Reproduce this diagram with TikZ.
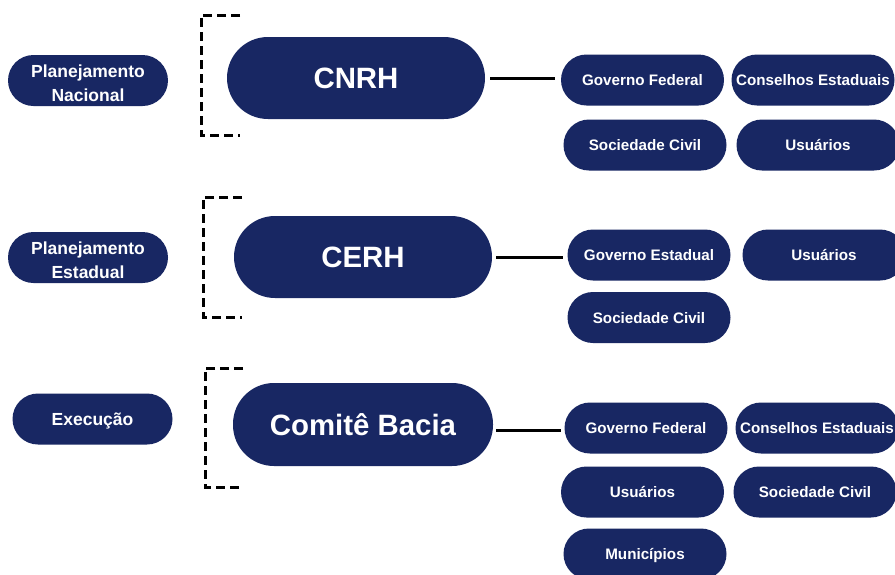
\documentclass[tikz,border=0pt]{standalone}
\usepackage{fontspec}
\setmainfont{Liberation Sans}
\usetikzlibrary{calc}
\definecolor{navy}{RGB}{24,39,99}
\tikzset{
  pill/.style={fill=navy, text=white, inner sep=0pt, font=\bfseries, align=center},
  bigbox/.style={pill, minimum width=258pt, minimum height=82pt, rounded corners=41pt, font=\fontsize{29.4}{32}\selectfont\bfseries, text height=21pt, text depth=0pt},
  lbox/.style={pill, minimum width=160pt, minimum height=51pt, rounded corners=25.5pt, font=\fontsize{17.5}{24}\selectfont\bfseries},
  ltext/.style={text=white, inner sep=0pt, align=center, font=\fontsize{17.5}{24}\selectfont\bfseries},
  sbox/.style={pill, minimum width=163pt, minimum height=51pt, rounded corners=25.5pt, font=\fontsize{15.2}{18}\selectfont\bfseries, text height=11pt, text depth=0pt},
  bracket/.style={draw=black, line width=3pt, dash pattern=on 9pt off 5pt},
  conn/.style={draw=black, line width=3pt}
}
\begin{document}
\begin{tikzpicture}[x=1pt,y=-1pt]
\useasboundingbox (0,0) rectangle (895,574);
\clip (0,0) rectangle (895,574);
\fill[white] (0,0) rectangle (895,574);
% left labels
\node[lbox] (pn) at (88,80.5) {};
\node[ltext] (pnt) at ($(pn.center)+(0,3)$) {Planejamento\\Nacional};
\node[lbox] (pe) at (88,257.5) {};
\node[ltext] (pet) at ($(pe.center)+(0,3)$) {Planejamento\\Estadual};
\node[lbox, text height=12.6pt, text depth=0pt] (ex) at (92.5,419) {Execução};
% main boxes
\node[bigbox] (cnrh) at (356,78) {CNRH};
\node[bigbox] (cerh) at (363,257) {CERH};
\node[bigbox, minimum width=260pt, minimum height=83pt] (cb) at (363,424.5) {Comitê Bacia};
% brackets
\draw[bracket] (240,15) -- (201,15) -- (201,135) -- (240,135);
\draw[bracket] (242,197) -- (203,197) -- (203,317) -- (242,317);
\draw[bracket] (243,368) -- (205,368) -- (205,487) -- (243,487);
% CNRH members
\node[sbox] (gf1) at (642.5,80) {Governo Federal};
\node[sbox] (ce1) at (813,80) {Conselhos Estaduais};
\node[sbox] (sc1) at (645,145) {Sociedade Civil};
\node[sbox] (us1) at (818,145) {Usuários};
% CERH members
\node[sbox] (ge2) at (649,255) {Governo Estadual};
\node[sbox] (us2) at (824,255) {Usuários};
\node[sbox] (sc2) at (649,317.5) {Sociedade Civil};
% Comite members
\node[sbox] (gf3) at (646,428) {Governo Federal};
\node[sbox] (ce3) at (817,428) {Conselhos Estaduais};
\node[sbox] (us3) at (642.5,492) {Usuários};
\node[sbox] (sc3) at (815,492) {Sociedade Civil};
\node[sbox] (mu3) at (645,554) {Municípios};
% connectors
\draw[conn] ($(cnrh.east)+(5,0)$) -- ($(cnrh.east -| gf1.west)+(-6,0)$);
\draw[conn] ($(cerh.east)+(4,0)$) -- ($(cerh.east -| ge2.west)+(-4,0)$);
\draw[conn] ($(cb.east)+(3,5.5)$) -- ($(cb.east -| gf3.west)+(-3,5.5)$);
\end{tikzpicture}
\end{document}
